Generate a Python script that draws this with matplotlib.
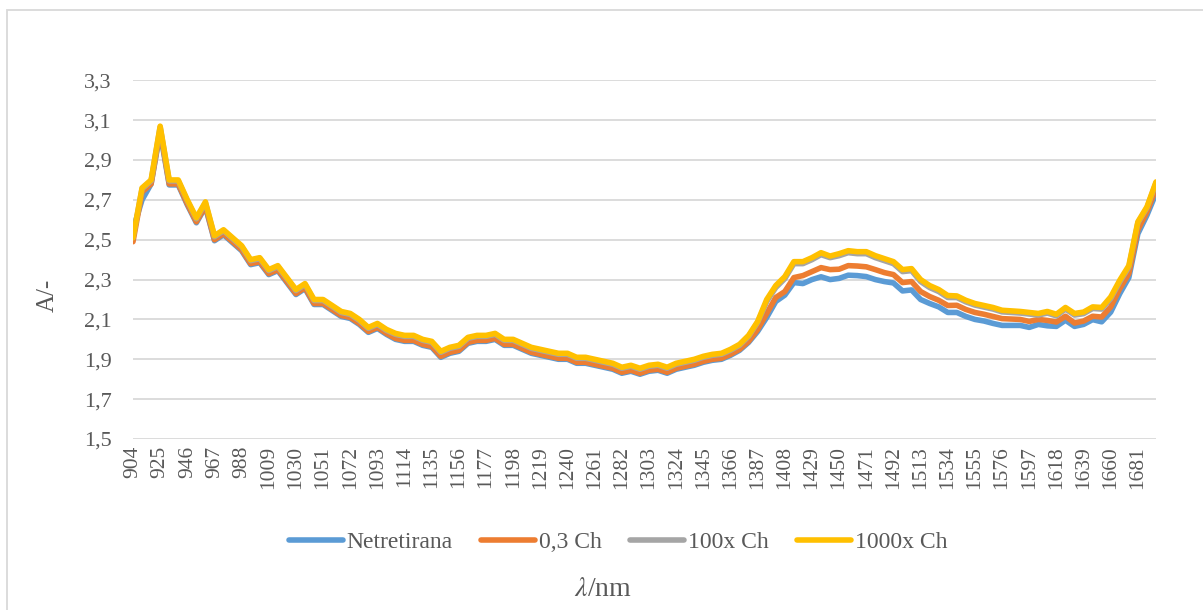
import numpy as np
import matplotlib
matplotlib.use("Agg")
import matplotlib.pyplot as plt
from matplotlib.patches import Rectangle

plt.rcParams["font.family"] = ["Liberation Serif", "DejaVu Serif"]
plt.rcParams["mathtext.fontset"] = "stix"

TEXT = "#595959"
GRID = "#D9D9D9"

# wavelength categories (nm), every 7 nm
wavelengths = np.arange(904, 1696, 7)

netretirana = [
    2.55, 2.70, 2.78, 3.04, 2.775, 2.775, 2.675, 2.585, 2.665, 2.495,
    2.525, 2.485, 2.445, 2.375, 2.385, 2.325, 2.345, 2.285, 2.225, 2.255,
    2.175, 2.175, 2.145, 2.115, 2.105, 2.075, 2.035, 2.055, 2.025, 2.00,
    1.99, 1.99, 1.97, 1.96, 1.91, 1.93, 1.94, 1.98, 1.99, 1.99,
    2.00, 1.97, 1.97, 1.95, 1.93, 1.92, 1.91, 1.90, 1.90, 1.88,
    1.88, 1.87, 1.86, 1.85, 1.83, 1.84, 1.825, 1.84, 1.845, 1.83,
    1.85, 1.86, 1.87, 1.885, 1.895, 1.90, 1.92, 1.945, 1.985, 2.04,
    2.11, 2.19, 2.222, 2.285, 2.28, 2.30, 2.314, 2.30, 2.306, 2.322,
    2.32, 2.315, 2.30, 2.29, 2.283, 2.243, 2.248, 2.20, 2.18, 2.163,
    2.135, 2.135, 2.115, 2.10, 2.092, 2.08, 2.07, 2.07, 2.07, 2.06,
    2.075, 2.068, 2.065, 2.096, 2.065, 2.075, 2.099, 2.088, 2.137, 2.23,
    2.31, 2.53, 2.623, 2.733,
]

ch_03 = [
    2.49, 2.74, 2.78, 3.05, 2.78, 2.78, 2.68, 2.59, 2.67, 2.50,
    2.53, 2.49, 2.45, 2.38, 2.39, 2.33, 2.35, 2.29, 2.23, 2.26,
    2.18, 2.18, 2.15, 2.12, 2.11, 2.08, 2.04, 2.06, 2.03, 2.005,
    1.995, 1.995, 1.975, 1.965, 1.915, 1.935, 1.945, 1.985, 1.995, 1.995,
    2.005, 1.975, 1.975, 1.955, 1.935, 1.925, 1.915, 1.905, 1.905, 1.885,
    1.885, 1.875, 1.865, 1.855, 1.835, 1.845, 1.83, 1.845, 1.85, 1.835,
    1.855, 1.865, 1.875, 1.89, 1.90, 1.905, 1.925, 1.95, 1.99, 2.05,
    2.13, 2.21, 2.24, 2.31, 2.32, 2.34, 2.36, 2.35, 2.352, 2.37,
    2.368, 2.364, 2.35, 2.335, 2.325, 2.285, 2.29, 2.24, 2.215, 2.196,
    2.17, 2.171, 2.15, 2.135, 2.126, 2.115, 2.104, 2.102, 2.10, 2.09,
    2.10, 2.095, 2.087, 2.116, 2.082, 2.092, 2.116, 2.112, 2.163, 2.255,
    2.33, 2.55, 2.64, 2.758,
]

ch_100x = [
    2.51, 2.755, 2.795, 3.065, 2.795, 2.795, 2.695, 2.605, 2.685, 2.515,
    2.545, 2.505, 2.465, 2.395, 2.405, 2.345, 2.365, 2.305, 2.245, 2.275,
    2.195, 2.195, 2.165, 2.135, 2.125, 2.095, 2.055, 2.075, 2.045, 2.025,
    2.015, 2.015, 1.995, 1.985, 1.935, 1.955, 1.965, 2.005, 2.015, 2.015,
    2.025, 1.995, 1.995, 1.975, 1.955, 1.945, 1.935, 1.925, 1.925, 1.905,
    1.905, 1.895, 1.885, 1.875, 1.855, 1.865, 1.85, 1.865, 1.87, 1.855,
    1.875, 1.885, 1.895, 1.91, 1.92, 1.925, 1.945, 1.97, 2.015, 2.085,
    2.19, 2.26, 2.305, 2.38, 2.38, 2.40, 2.425, 2.41, 2.42, 2.435,
    2.43, 2.43, 2.41, 2.395, 2.38, 2.34, 2.345, 2.29, 2.26, 2.24,
    2.21, 2.21, 2.188, 2.172, 2.162, 2.152, 2.138, 2.135, 2.132, 2.127,
    2.122, 2.132, 2.118, 2.152, 2.122, 2.129, 2.155, 2.152, 2.205, 2.289,
    2.362, 2.585, 2.66, 2.785,
]

ch_1000x = [
    2.51, 2.76, 2.80, 3.07, 2.80, 2.80, 2.70, 2.61, 2.69, 2.52,
    2.55, 2.51, 2.47, 2.40, 2.41, 2.35, 2.37, 2.31, 2.25, 2.28,
    2.20, 2.20, 2.17, 2.14, 2.13, 2.10, 2.06, 2.08, 2.05, 2.03,
    2.02, 2.02, 2.00, 1.99, 1.94, 1.96, 1.97, 2.01, 2.02, 2.02,
    2.03, 2.00, 2.00, 1.98, 1.96, 1.95, 1.94, 1.93, 1.93, 1.91,
    1.91, 1.90, 1.89, 1.88, 1.86, 1.87, 1.855, 1.87, 1.875, 1.86,
    1.88, 1.89, 1.90, 1.915, 1.925, 1.93, 1.95, 1.975, 2.02, 2.09,
    2.20, 2.27, 2.315, 2.39, 2.39, 2.41, 2.435, 2.418, 2.43, 2.445,
    2.44, 2.44, 2.42, 2.405, 2.39, 2.35, 2.355, 2.30, 2.27, 2.25,
    2.22, 2.218, 2.196, 2.18, 2.17, 2.16, 2.146, 2.143, 2.14, 2.135,
    2.13, 2.14, 2.126, 2.16, 2.13, 2.137, 2.163, 2.16, 2.213, 2.297,
    2.37, 2.59, 2.665, 2.79,
]

series = [
    ("Netretirana", netretirana, "#5B9BD5"),
    ("0,3 Ch", ch_03, "#ED7D31"),
    ("100x Ch", ch_100x, "#A5A5A5"),
    ("1000x Ch", ch_1000x, "#FFC000"),
]

y_ticks = [1.5, 1.7, 1.9, 2.1, 2.3, 2.5, 2.7, 2.9, 3.1, 3.3]

fig = plt.figure(figsize=(12.03, 6.10), dpi=100)
fig.patch.set_facecolor("white")
ax = fig.add_axes([133 / 1203, 1 - 439 / 610, (1156 - 133) / 1203, (439 - 80.3) / 610])

# chart border (Excel chart area)
fig.patches.append(Rectangle((7 / 1203, -0.05), 1.2, 1 - 10 / 610 + 0.05,
                             transform=fig.transFigure, fill=False,
                             edgecolor=GRID, linewidth=1.3, zorder=0))

x = np.arange(len(wavelengths))
for name, vals, col in series:
    ax.plot(x, vals, color=col, lw=4.0, solid_joinstyle="round",
            solid_capstyle="round", label=name, zorder=3)

ax.set_xlim(0, len(wavelengths) - 1)
ax.set_ylim(1.5, 3.3)
ax.set_yticks(y_ticks)
ax.set_yticklabels([f"{v:.1f}".replace(".", ",") for v in y_ticks])
ax.set_xticks(x[::3])
ax.set_xticklabels([str(w) for w in wavelengths[::3]])
ax.grid(axis="y", color=GRID, linewidth=1.3, zorder=0)
ax.set_axisbelow(True)
for s in ax.spines.values():
    s.set_visible(False)
ax.tick_params(axis="y", length=0, pad=15.5, labelsize=16, labelcolor=TEXT)
ax.tick_params(axis="x", length=0, pad=5, labelsize=15.5, labelcolor=TEXT,
               labelrotation=90)

fig.legend(loc="center", bbox_to_anchor=(618 / 1203, 1 - 542 / 610), ncol=4,
           frameon=False, fontsize=17, handlelength=2.3, handletextpad=0.15,
           columnspacing=1.2, labelcolor=TEXT)

fig.text(48 / 1203, 1 - 295 / 610, "A/-", rotation=90, ha="center", va="center",
         fontsize=18, color=TEXT)
fig.text(603 / 1203, 1 - 590 / 610, r"$\lambda$/nm", ha="center", va="center",
         fontsize=20, color=TEXT)

fig.savefig("out.png", dpi=100, facecolor="white")
